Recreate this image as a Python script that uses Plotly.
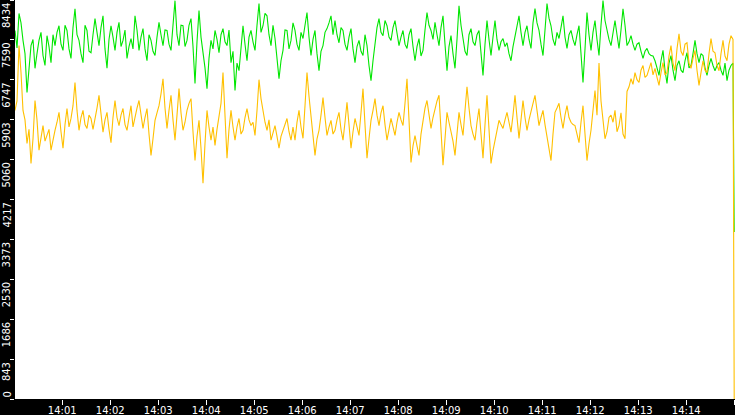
import pandas as pd
import plotly.graph_objects as go

# readings every 5 s from 14:00:01 (last value is the 14:15:00 reading)
green_vals = [
    7790, 8150, 7580, 6480, 7470, 6990, 7580, 7260, 7680, 7110,
    7470, 7890, 7370, 7790, 7200, 8250, 7580, 7110, 7790, 7320,
    8040, 7470, 8100, 6990, 7890, 7370, 7960, 7580, 7200, 7620,
    8100, 7370, 7830, 7150, 7580, 7260, 7960, 7470, 7790, 7370,
    8420, 7470, 7890, 7580, 8040, 6670, 8210, 7370, 6560, 7580,
    7790, 7320, 7830, 7470, 7110, 6520, 6940, 7890, 7150, 7790,
    7370, 8360, 7890, 8100, 7470, 7620, 6770, 7370, 7790, 7580,
    7790, 7370, 7620, 8170, 7260, 7790, 6940, 7470, 7830, 8100,
    8000, 7530, 7790, 7370, 7830, 7110, 7580, 7260, 7470, 6730,
    7470, 8040, 7680, 7890, 7580, 8000, 7470, 7790, 7410, 7830,
    7150, 7620, 7370, 8170, 7790, 7960, 7470, 8100, 6940, 7680,
    6990, 8310, 7580, 7260, 7830, 7470, 7790, 6840, 8000, 7260,
    8000, 7370, 7620, 7530, 7150, 7680, 8100, 7470, 7890, 7410,
    8250, 7790, 7260, 8360, 7890, 7470, 7620, 8100, 7410, 7790,
    7470, 7890, 6690, 8170, 7370, 8000, 7260, 8420, 7790, 7470,
    8000, 7410, 8250, 7470, 7680, 7370, 7530, 7200, 7410, 7260,
    7150, 6840, 7370, 6670, 7260, 6730, 7150, 6900, 7320, 7050,
    7580, 7110, 7260, 6840, 7200, 6940, 7110, 6840, 6730, 7050,
    3530,
]
# readings in between (14:00:03.5, 14:00:08.5, ...)
green_mid = [
    7420, 7950, 7300, 7050, 7600, 7300, 7750, 7050, 7450, 7700,
    7750, 7500, 7900, 7400, 7850, 7700, 7300, 7900, 7350, 7700,
    7750, 7850, 7400, 7600, 7650, 7750, 7450, 7800, 7450, 7400,
    7800, 7650, 7400, 7700, 7350, 7650, 7700, 7800, 7500, 7900,
    7700, 7900, 7450, 7900, 7450, 7550, 7650, 7000, 7200, 7400,
    7600, 7700, 7550, 7800, 7350, 7100, 7450, 7500, 7650, 7550,
    7900, 7750, 8150, 7700, 7900, 7200, 7150, 7800, 7400, 7950,
    7500, 7750, 7900, 7650, 7600, 7300, 7350, 7750, 7950, 7700,
    7700, 7850, 7500, 7650, 7400, 7450, 7350, 7700, 7050, 7150,
    7850, 7750, 8000, 7650, 7850, 7700, 7650, 7500, 7700, 7450,
    7450, 7250, 7800, 7900, 7600, 7700, 7850, 7500, 7450, 7300,
    7600, 7900, 7350, 7700, 7550, 7700, 7300, 7500, 7600, 7650,
    7600, 7550, 7450, 7300, 7450, 7900, 7750, 7750, 7600, 7950,
    7950, 7500, 7800, 8050, 7600, 7750, 7850, 7650, 7700, 7600,
    7700, 7300, 7400, 7700, 7750, 7600, 7900, 8000, 7600, 7750,
    7700, 7800, 7900, 7550, 7500, 7500, 7350, 7350, 7300, 7250,
    7000, 7150, 6950, 7100, 6950, 7050, 6950, 7150, 7000, 7300,
    7300, 7300, 7000, 7050, 7050, 7050, 6950, 7100, 6950, 7100,
]

yellow_vals = [
    6100, 7470, 6100, 5400, 4980, 6310, 5260, 5780, 5570, 5260,
    5680, 6060, 5300, 6140, 5930, 6690, 5680, 6100, 5720, 5930,
    5890, 6420, 5640, 6060, 5420, 6310, 5780, 6140, 5680, 6200,
    5990, 6310, 5720, 6140, 5150, 5890, 6200, 6770, 5720, 6420,
    5470, 6560, 5680, 6100, 6350, 5040, 5890, 4560, 6100, 5470,
    5360, 5990, 6900, 5090, 6100, 5470, 5930, 5680, 6140, 5780,
    5570, 6750, 6060, 5680, 5470, 5780, 5300, 5680, 5930, 5470,
    5470, 6100, 5510, 6900, 5930, 5150, 5680, 6370, 5570, 5890,
    5680, 6060, 5470, 6270, 5300, 5930, 5570, 6560, 5090, 5890,
    6350, 5780, 6200, 5470, 5930, 5570, 6060, 5780, 6770, 5000,
    5570, 5150, 5930, 6310, 5720, 6140, 6420, 4940, 6060, 5680,
    5150, 6060, 5570, 6600, 5780, 5470, 6140, 5090, 6420, 4980,
    5470, 5890, 5720, 6060, 5640, 6420, 5510, 6310, 5680, 6100,
    6420, 5780, 6100, 5570, 5040, 6060, 6250, 5720, 6200, 5850,
    5780, 5420, 6200, 5040, 5680, 6520, 7100, 5900, 5650, 6000,
    6100, 5780, 5600, 6500, 6770, 6900, 6690, 7050, 6840, 7110,
    6990, 6630, 7110, 6900, 7470, 6940, 7720, 7260, 7530, 6990,
    7370, 6630, 7150, 6900, 7620, 7320, 6940, 7580, 7150, 7680,
    0,
]
yellow_mid = [
    6300, 6900, 5900, 5700, 5500, 5900, 5500, 5450, 5700, 5500,
    5850, 5650, 5800, 5750, 6200, 6100, 5950, 5800, 6000, 5700,
    6150, 5950, 5900, 5700, 5950, 5950, 6000, 5800, 5950, 5750,
    6150, 5950, 5950, 5600, 5500, 6050, 6450, 6150, 6100, 5900,
    6000, 6050, 5850, 6250, 5650, 5550, 5300, 5400, 5750, 5750,
    5700, 6250, 5950, 5700, 5750, 5750, 5600, 5950, 5900, 5850,
    6100, 6350, 5850, 5900, 5650, 5550, 5550, 5850, 5650, 5750,
    5850, 5750, 6200, 6400, 5550, 5500, 6000, 5950, 5750, 5600,
    5900, 5700, 5850, 5800, 5650, 5750, 6050, 5800, 5500, 6100,
    6000, 6050, 5800, 5700, 5750, 5850, 5900, 6250, 5900, 5350,
    5350, 5600, 6150, 5950, 5950, 6300, 5700, 5500, 5850, 5450,
    5650, 5800, 6100, 6150, 5600, 5850, 5600, 5800, 5700, 5250,
    5700, 5800, 5900, 5850, 6000, 5950, 5900, 5950, 5900, 6250,
    6050, 5950, 5800, 5300, 5600, 6150, 5950, 6000, 5950, 5800,
    5600, 5850, 5600, 5400, 6100, 6000, 6300, 5500, 5950, 5850,
    5650, 6050, 5500, 6600, 6650, 6750, 6950, 6800, 7000, 6850,
    6800, 6900, 6850, 7250, 7100, 7400, 7350, 7500, 7100, 7200,
    6950, 6900, 6950, 7300, 7350, 7050, 7300, 7250, 7500, 7600,
]

y_ticks = [0, 843, 1686, 2530, 3373, 4217, 5060, 5903, 6747, 7590, 8434]


def interleave(main, mid):
    out = []
    for a, b in zip(main[:-1], mid):
        out += [a, b]
    out.append(main[-1])
    return out


times = list(pd.date_range("2024-01-01 14:00:01", periods=360, freq="2500ms"))
times.append(pd.Timestamp("2024-01-01 14:15:00"))

fig = go.Figure()
fig.add_trace(go.Scatter(x=times, y=interleave(green_vals, green_mid), mode="lines",
                         line=dict(color="#00e600", width=1.1)))
fig.add_trace(go.Scatter(x=times, y=interleave(yellow_vals, yellow_mid), mode="lines",
                         line=dict(color="#ffc000", width=1.1)))

font = dict(family="DejaVu Sans", size=10, color="white")

# y labels sit just below their tick, rotated
for v in y_ticks:
    fig.add_annotation(
        x=0, xref="paper", y=v, yref="y",
        text=str(v), showarrow=False, textangle=-90,
        xanchor="right", xshift=-2,
        yanchor="bottom" if v == 0 else "top",
        yshift=0 if v == 0 else -2,
        font=font, borderpad=0,
    )

fig.update_layout(
    width=735, height=415,
    margin=dict(l=15, r=0, t=0, b=16),
    paper_bgcolor="black", plot_bgcolor="white",
    showlegend=False,
    xaxis=dict(
        range=["2024-01-01 14:00:01", "2024-01-01 14:15:01"],
        tickformat="%H:%M", dtick=60000, tick0="2024-01-01 14:00:00",
        ticks="outside", ticklen=5, tickcolor="white", tickwidth=1,
        ticklabelstandoff=-3,
        showgrid=False, zeroline=False, showline=False,
        tickfont=font, automargin=False,
    ),
    yaxis=dict(
        range=[0, 8434], tickvals=y_ticks, showticklabels=False,
        ticks="outside", ticklen=4, tickcolor="white", tickwidth=1,
        showgrid=False, zeroline=False, showline=False, automargin=False,
    ),
)

# page body has a default 8px margin; drop it so the chart fills the window
fig.write_html("out.html", config={"displayModeBar": False},
               post_script="document.body.style.margin='0px';")
